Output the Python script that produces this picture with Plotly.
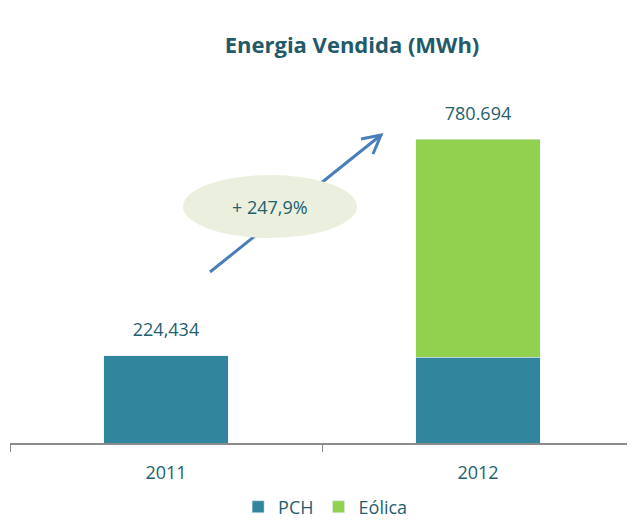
import plotly.graph_objects as go

years = ["2011", "2012"]
pch = [224434, 221000]
eolica = [None, 559694]
total_labels = ["224,434", "780.694"]
totals = [224434, 780694]
growth_label = "+ 247,9%"

TEXT = "#245f6e"
FONT = "Open Sans, Liberation Sans, sans-serif"

fig = go.Figure()
fig.add_trace(go.Bar(x=years, y=pch, name="PCH", marker_color="#31859C"))
fig.add_trace(go.Bar(x=years, y=eolica, name="Eólica", marker_color="#92D050"))
fig.add_trace(go.Scatter(x=years, y=totals, mode="markers+text", text=total_labels,
                         textposition="top center", showlegend=False, hoverinfo="skip",
                         marker=dict(size=22, opacity=0),
                         textfont=dict(size=18, color=TEXT, family=FONT)))

# arrow (shapes so the ellipse covers it)
fig.add_shape(type="line", xref="paper", yref="paper", x0=0.3205, y0=0.4886, x1=0.5946, y1=0.880,
              line=dict(color="#4A7EBB", width=3))
fig.add_shape(type="path", xref="paper", yref="paper",
              path="M 0.5625 0.8686 L 0.5946 0.880 L 0.5817 0.8257",
              line=dict(color="#4A7EBB", width=3))
fig.add_shape(type="circle", xref="paper", yref="paper", x0=0.2772, x1=0.5561, y0=0.5857, y1=0.7657,
              fillcolor="#EBF0DE", line=dict(width=0))
fig.add_annotation(xref="paper", yref="paper", x=0.4167, y=0.6743, text=growth_label, showarrow=False,
                   xanchor="center", yanchor="middle",
                   font=dict(size=18, color=TEXT, family=FONT))

fig.update_layout(
    barmode="stack",
    bargap=0.6,
    width=627, height=513,
    margin=dict(l=2, r=1, t=85, b=78, autoexpand=False),
    paper_bgcolor="white", plot_bgcolor="white",
    title=dict(text="<b>Energia Vendida (MWh)</b>", x=344/627, xanchor="center", y=1 - 37/513, yanchor="middle",
               font=dict(size=22, color="#235a68", family=FONT)),
    legend=dict(orientation="h", x=0.505, xanchor="center", y=-0.183, yanchor="middle", traceorder="normal",
                font=dict(size=18, color=TEXT, family=FONT), itemwidth=30),
    showlegend=True,
    xaxis=dict(type="category", range=[-0.5, 1.5], showline=True, linecolor="#8c8c8c", linewidth=1.5,
               ticks="outside", ticklen=7, tickcolor="#8c8c8c", tickson="boundaries", showgrid=False,
               automargin=False, ticklabelstandoff=13, tickfont=dict(size=18, color=TEXT, family=FONT)),
    yaxis=dict(range=[0, 900000], visible=False, showgrid=False),
)

fig.write_html("out.html")
